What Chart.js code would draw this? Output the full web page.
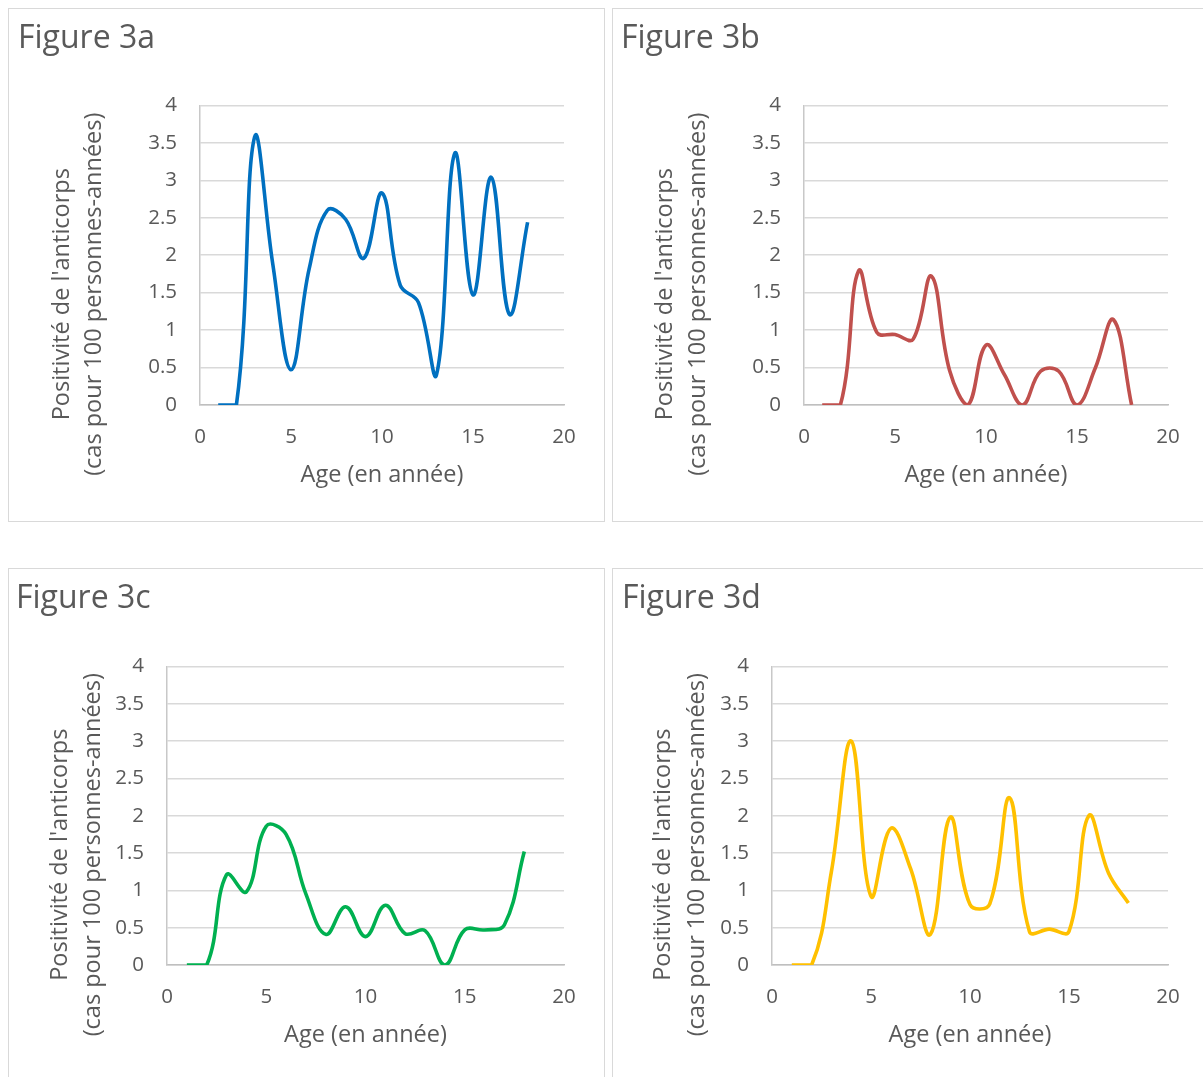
<!DOCTYPE html>
<html>
<head>
<meta charset="utf-8">
<script src="https://cdn.jsdelivr.net/npm/chart.js@4.4.0/dist/chart.umd.min.js"></script>
<style>
  html, body { margin: 0; padding: 0; background: #fff; }
  body { width: 1203px; height: 1077px; overflow: hidden; position: relative; }
  .panel { position: absolute; border: 1px solid #d9d9d9; box-sizing: border-box; background: #fff; }
  .panel canvas { position: absolute; left: 0; top: 0; }
</style>
</head>
<body>
<div class="panel" style="left:8px;top:8px;width:597px;height:514px"><canvas id="c3a" width="595" height="512"></canvas></div>
<div class="panel" style="left:612px;top:8px;width:600px;height:514px"><canvas id="c3b" width="598" height="512"></canvas></div>
<div class="panel" style="left:8px;top:568px;width:597px;height:520px"><canvas id="c3c" width="595" height="518"></canvas></div>
<div class="panel" style="left:612px;top:568px;width:600px;height:520px"><canvas id="c3d" width="598" height="518"></canvas></div>
<script>
// data
var ages = [1, 2, 3, 4, 5, 6, 7, 8, 9, 10, 11, 12, 13, 14, 15, 16, 17, 18];
var fig3a = [0, 0, 3.58, 1.88, 0.47, 1.82, 2.6, 2.48, 1.96, 2.83, 1.6, 1.37, 0.41, 3.36, 1.47, 3.04, 1.21, 2.44];
var fig3b = [0, 0, 1.79, 0.97, 0.94, 0.88, 1.72, 0.46, 0, 0.8, 0.41, 0, 0.45, 0.45, 0, 0.49, 1.14, 0];
var fig3c = [0, 0, 1.21, 0.98, 1.86, 1.75, 0.95, 0.41, 0.78, 0.38, 0.8, 0.42, 0.46, 0, 0.47, 0.47, 0.54, 1.52];
var fig3d = [0, 0, 1.25, 3.0, 0.92, 1.83, 1.29, 0.41, 1.98, 0.81, 0.82, 2.24, 0.45, 0.48, 0.45, 2.0, 1.23, 0.83];
var xTicks = [0, 5, 10, 15, 20];
var yTicks = [0, 0.5, 1, 1.5, 2, 2.5, 3, 3.5, 4];

var textColor = '#595959';
var fontFamily = '"Open Sans", "DejaVu Sans", sans-serif';

// y title drawn by hand so it can sit a bit lower than the plot centre, like the original
var yTitlePlugin = {
  id: 'yTitle',
  afterDraw: function (chart, args, opts) {
    var ctx = chart.ctx;
    var area = chart.chartArea;
    var cy = (area.top + area.bottom) / 2 + opts.shift;
    ctx.save();
    ctx.fillStyle = textColor;
    ctx.font = opts.size + 'px ' + fontFamily;
    ctx.textAlign = 'center';
    ctx.textBaseline = 'middle';
    for (var i = 0; i < opts.lines.length; i++) {
      ctx.save();
      ctx.translate(opts.x[i], cy);
      ctx.rotate(-Math.PI / 2);
      ctx.fillText(opts.lines[i], 0, 0);
      ctx.restore();
    }
    ctx.restore();
  }
};

function makeChart(id, title, values, color, lay) {
  var points = ages.map(function (a, i) { return { x: a, y: values[i] }; });
  return new Chart(document.getElementById(id), {
    type: 'line',
    data: {
      datasets: [{
        data: points,
        borderColor: color,
        borderWidth: 3.6,
        pointRadius: 0,
        tension: 0.4,
        fill: false
      }]
    },
    options: {
      responsive: false,
      animation: false,
      devicePixelRatio: 1,
      layout: { padding: { left: lay.padLeft, right: lay.padRight, top: 0, bottom: lay.padBottom } },
      plugins: {
        legend: { display: false },
        tooltip: { enabled: false },
        title: {
          display: true,
          text: title,
          align: 'start',
          color: textColor,
          font: { family: fontFamily, size: 32, weight: 'normal' },
          padding: { top: 11, bottom: lay.titleBottom }
        },
        yTitle: {
          lines: ["Positivité de l'anticorps", '(cas pour 100 personnes-années)'],
          x: lay.yTitleX,
          shift: 39,
          size: 23.5
        }
      },
      scales: {
        x: {
          type: 'linear',
          min: 0,
          max: 20,
          afterBuildTicks: function (scale) { scale.ticks = xTicks.map(function (v) { return { value: v }; }); },
          afterFit: function (scale) { scale.height = 84; },
          grid: { display: false, drawTicks: false },
          border: { display: true, color: '#bfbfbf', width: 1.5 },
          ticks: {
            padding: 20,
            color: textColor,
            font: { family: fontFamily, size: 20.5 },
            callback: function (v) { return String(v); }
          },
          title: {
            display: true,
            text: 'Age (en année)',
            color: textColor,
            font: { family: fontFamily, size: 23.5 },
            padding: { top: 0, bottom: 0 }
          }
        },
        y: {
          min: 0,
          max: 4,
          afterBuildTicks: function (scale) { scale.ticks = yTicks.map(function (v) { return { value: v }; }); },
          afterFit: function (scale) { scale.width = lay.yWidth; },
          grid: { color: '#d9d9d9', lineWidth: 1.5, drawTicks: false },
          border: { display: true, color: '#c8c8c8', width: 1.5 },
          ticks: {
            padding: 23,
            color: textColor,
            font: { family: fontFamily, size: 20.5 },
            callback: function (v) { return String(v); }
          }
        }
      }
    },
    plugins: [yTitlePlugin]
  });
}

makeChart('c3a', 'Figure 3a', fig3a, '#0070C0',
  { padLeft: 9, padRight: 40, padBottom: 32, yWidth: 182, titleBottom: 47, yTitleX: [53, 85] });
makeChart('c3b', 'Figure 3b', fig3b, '#C0504D',
  { padLeft: 8, padRight: 43, padBottom: 32, yWidth: 183, titleBottom: 47, yTitleX: [52, 85] });
makeChart('c3c', 'Figure 3c', fig3c, '#00B050',
  { padLeft: 7, padRight: 40, padBottom: 38, yWidth: 151, titleBottom: 48, yTitleX: [51, 84] });
makeChart('c3d', 'Figure 3d', fig3d, '#FFC000',
  { padLeft: 9, padRight: 43, padBottom: 38, yWidth: 150, titleBottom: 48, yTitleX: [50, 84] });
</script>
</body>
</html>
